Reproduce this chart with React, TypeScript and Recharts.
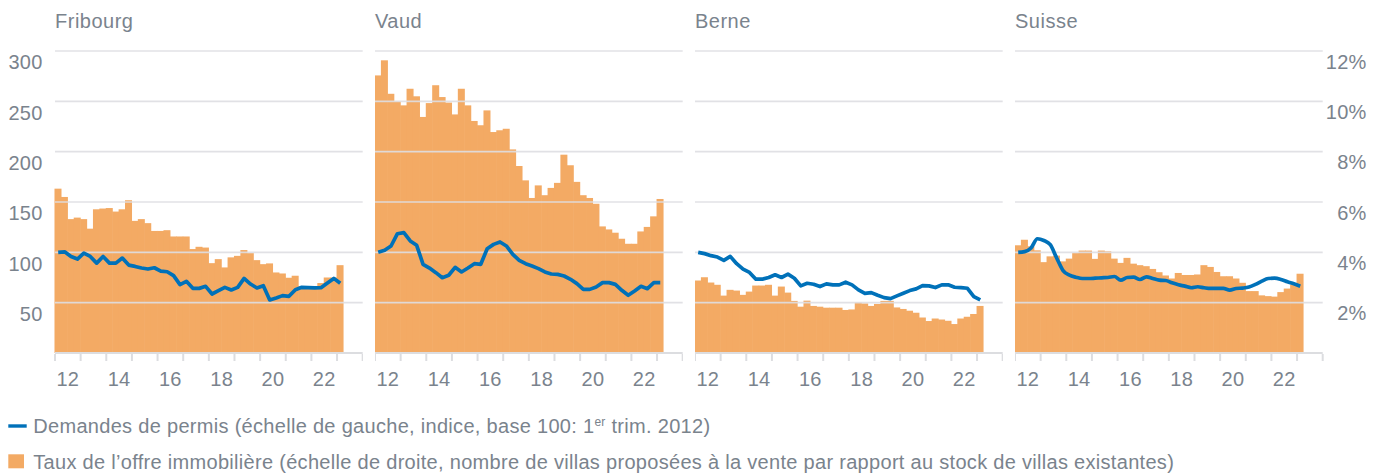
import React from 'react';
import { Bar, ComposedChart, Line, ReferenceLine, XAxis, YAxis } from 'recharts';

// Taux de l'offre (%, right axis) and demandes de permis (index, left axis), quarterly from 2012 T1
const years = ['2012', '2013', '2014', '2015', '2016', '2017', '2018', '2019', '2020', '2021', '2022', '2023'];
const quarterNames = ['T1', 'T2', 'T3', 'T4'];
const xTickLabels = ['12', '14', '16', '18', '20', '22'];
const leftTicks = [50, 100, 150, 200, 250, 300];
const rightTicks = [2, 4, 6, 8, 10, 12];

const fribourgOffre = [6.53, 6.2, 5.32, 5.38, 5.32, 4.94, 5.71, 5.74, 5.76, 5.62, 5.71, 6.07, 5.25, 5.32, 5.16, 4.85, 4.85, 4.88, 4.63, 4.63, 4.63, 4.13, 4.22, 4.19, 3.57, 3.73, 3.4, 3.8, 3.86, 4.09, 3.97, 3.69, 3.53, 3.56, 3.2, 3.16, 2.99, 3.07, 2.65, 2.64, 2.64, 2.78, 3.0, 3.0, 3.49];
const fribourgPermis = [100, 100.5, 95.9, 93.3, 99.2, 95.9, 89.3, 95.9, 89.3, 89.3, 94.3, 87.3, 86.0, 84.4, 83.4, 84.7, 81.4, 80.7, 76.8, 67.9, 71.2, 64.2, 64.2, 66.2, 58.6, 61.9, 65.2, 62.6, 65.2, 74.1, 68.5, 64.6, 66.9, 52.7, 54.7, 57.0, 56.3, 62.9, 65.2, 64.9, 64.6, 64.9, 69.5, 74.1, 69.2];

const vaudOffre = [11.03, 11.63, 10.3, 10.0, 9.84, 10.5, 10.2, 9.38, 9.93, 10.64, 10.17, 9.95, 9.48, 10.5, 9.84, 9.22, 9.05, 9.64, 8.78, 8.85, 8.91, 8.09, 7.43, 6.86, 6.16, 6.66, 6.27, 6.56, 6.76, 7.88, 7.46, 6.8, 6.27, 6.16, 5.93, 5.03, 4.91, 4.78, 4.54, 4.34, 4.34, 4.83, 5.01, 5.43, 6.12];
const vaudPermis = [100, 102.0, 106.3, 118.5, 119.5, 111.3, 107.0, 88.1, 84.4, 79.8, 74.8, 77.2, 85.1, 80.5, 84.4, 88.7, 88.1, 103.6, 107.9, 110.3, 106.3, 98.0, 92.1, 88.7, 86.4, 83.8, 80.5, 78.5, 78.1, 76.5, 73.2, 68.9, 63.2, 63.2, 65.6, 69.9, 69.9, 68.2, 62.3, 57.3, 61.6, 66.2, 63.9, 69.9, 69.9];

const berneOffre = [2.88, 3.01, 2.8, 2.71, 2.28, 2.51, 2.48, 2.31, 2.44, 2.68, 2.68, 2.71, 2.28, 2.64, 2.4, 2.07, 1.84, 2.08, 1.87, 1.84, 1.8, 1.8, 1.8, 1.71, 1.73, 2.01, 1.97, 1.87, 1.95, 2.07, 2.07, 1.81, 1.75, 1.68, 1.6, 1.41, 1.27, 1.37, 1.33, 1.28, 1.15, 1.37, 1.44, 1.55, 1.87];
const bernePermis = [100, 98.7, 96.7, 95.3, 92, 96, 88.7, 83.3, 80, 73.3, 73.3, 75, 77.7, 75, 78.3, 74.3, 66.7, 69.3, 68.3, 66, 68.7, 67.7, 67.7, 70.3, 67.7, 62.7, 59.3, 60, 57.3, 55, 54, 56.7, 59.3, 62, 63.7, 67, 66.7, 65, 67.7, 67.7, 65.3, 65, 64.3, 56, 52.7];

const suisseOffre = [4.28, 4.5, 4.24, 4.08, 3.61, 3.84, 3.87, 3.64, 3.75, 3.97, 4.07, 4.07, 3.74, 4.07, 4.04, 3.75, 3.58, 3.78, 3.55, 3.49, 3.45, 3.34, 3.21, 3.08, 2.96, 3.18, 3.1, 3.1, 3.12, 3.49, 3.42, 3.22, 3.05, 3.05, 2.96, 2.79, 2.46, 2.46, 2.29, 2.26, 2.24, 2.42, 2.56, 2.72, 3.15];
const suissePermis = [100, 100.7, 104.3, 113.5, 111.8, 107.6, 94.4, 81.9, 77.3, 75.3, 74.0, 74.0, 74.3, 74.7, 75.0, 76.0, 72.4, 75.0, 75.3, 73.0, 75.7, 74.0, 72.4, 72.0, 69.7, 67.8, 66.4, 64.8, 65.8, 64.8, 64.1, 64.1, 64.1, 62.5, 64.1, 64.5, 65.5, 68.1, 71.4, 74.0, 74.3, 73.0, 70.7, 68.8, 66.4];

const quarters = years.flatMap((y) => quarterNames.map((t) => `${y} ${t}`));

const FONT = "'Liberation Sans', Arial, sans-serif";
const TEXT = '#7a838d';
const ORANGE = '#f3aa64';
const BLUE = '#0071b9';
const GRID = '#dcdde0';
const GRID_OVER = 'rgba(222,222,226,0.9)';
const LS = 0.3;

const PLOT_W = 307.7;
const PLOT_TOP = 51;
const PLOT_BOTTOM = 353;
const CHART_H = 400;
const BAND = PLOT_W / quarters.length;

// contiguous bars: widen each rect to the full band around the library's bar centre
function BandBar(props: any) {
  const { x, y, width, height } = props;
  if (!height || height <= 0) return <g />;
  const cx = x + width / 2;
  return <rect x={cx - BAND / 2 - 0.3} y={y} width={BAND + 0.6} height={height} fill={ORANGE} />;
}

function XTick(props: any) {
  const { x, index } = props;
  const left = x - BAND / 2;
  return (
    <g>
      {index % 4 === 0 && (
        <line x1={left} x2={left} y1={PLOT_BOTTOM + 1} y2={PLOT_BOTTOM + 8} stroke={GRID} strokeWidth={2} />
      )}
      {index === quarters.length - 1 && (
        <line x1={x + BAND / 2} x2={x + BAND / 2} y1={PLOT_BOTTOM + 1} y2={PLOT_BOTTOM + 8} stroke={GRID} strokeWidth={2} />
      )}
      {index % 8 === 0 && (
        <text x={left + 2 * BAND} y={385.7} textAnchor="middle" fontSize={20} fill={TEXT} fontFamily={FONT} letterSpacing={LS}>
          {xTickLabels[index / 8]}
        </text>
      )}
    </g>
  );
}

function Panel({ title, offre, permis, plotLeft, leftW = 0, rightW = 0, smooth = false }: any) {
  const data = quarters.map((q, i) => ({
    q,
    offre: i < offre.length ? offre[i] : null,
    permis: i < permis.length ? permis[i] : null,
  }));
  return (
    <div style={{ position: 'absolute', left: plotLeft - leftW, top: 0 }}>
      <svg style={{ position: 'absolute', left: leftW, top: 0, overflow: 'visible' }} width={200} height={40}>
        <text x={0} y={28.3} fontSize={20} fill={TEXT} fontFamily={FONT} letterSpacing={0.5}>{title}</text>
      </svg>
      <ComposedChart
        width={leftW + PLOT_W + rightW}
        height={CHART_H}
        data={data}
        margin={{ top: PLOT_TOP, right: 0, bottom: 0, left: 0 }}
        barCategoryGap={0}
        barGap={0}
      >
        <XAxis
          dataKey="q"
          interval={0}
          height={CHART_H - PLOT_BOTTOM}
          tickLine={false}
          axisLine={{ stroke: GRID, strokeWidth: 2 }}
          tick={<XTick />}
        />
        <YAxis
          yAxisId="l"
          domain={[0, 300]}
          ticks={leftTicks}
          hide={!leftW}
          width={leftW}
          axisLine={false}
          tickLine={false}
          tick={(p: any) => (
            <text x={42.7} y={p.y + 18.3} textAnchor="end" fontSize={20} fill={TEXT} fontFamily={FONT} letterSpacing={LS}>
              {p.payload.value}
            </text>
          )}
        />
        <YAxis
          yAxisId="r"
          orientation="right"
          domain={[0, 12]}
          ticks={rightTicks}
          hide={!rightW}
          width={rightW}
          axisLine={false}
          tickLine={false}
          tick={(p: any) => (
            <text x={PLOT_W + 44} y={p.y + 17.8} textAnchor="end" fontSize={20} fill={TEXT} fontFamily={FONT} letterSpacing={LS}>
              {`${p.payload.value}%`}
            </text>
          )}
        />
        <Bar yAxisId="r" dataKey="offre" fill={ORANGE} shape={<BandBar />} isAnimationActive={false} />
        {leftTicks.map((v) => (
          <ReferenceLine key={v} yAxisId="l" y={v} stroke={GRID_OVER} strokeWidth={1.6} />
        ))}
        <Line
          yAxisId="l"
          dataKey="permis"
          type={smooth ? 'monotone' : 'linear'}
          stroke={BLUE}
          strokeWidth={3.7}
          strokeLinejoin="round"
          dot={false}
          activeDot={false}
          isAnimationActive={false}
        />
      </ComposedChart>
    </div>
  );
}

export default function App() {
  return (
    <div
      style={{
        position: 'absolute',
        left: 0,
        top: 0,
        width: 1384,
        height: 476,
        background: '#fff',
        overflow: 'hidden',
        fontFamily: FONT,
      }}
    >
      <Panel title="Fribourg" offre={fribourgOffre} permis={fribourgPermis} plotLeft={55} leftW={55} />
      <Panel title="Vaud" offre={vaudOffre} permis={vaudPermis} plotLeft={375} />
      <Panel title="Berne" offre={berneOffre} permis={bernePermis} plotLeft={695} />
      <Panel title="Suisse" offre={suisseOffre} permis={suissePermis} plotLeft={1015} rightW={61.3} smooth />
      <svg style={{ position: 'absolute', left: 0, top: 400 }} width={1384} height={76}>
        <rect x={8.3} y={24.3} width={18.4} height={3.4} fill={BLUE} />
        <text x={33.3} y={33.3} fontSize={20} fill={TEXT} fontFamily={FONT} letterSpacing={LS}>
          Demandes de permis (échelle de gauche, indice, base 100: 1
          <tspan fontSize={12} dy={-7}>er</tspan>
          <tspan dy={7}> trim. 2012)</tspan>
        </text>
        <rect x={8.3} y={54.3} width={15.7} height={14} fill={ORANGE} />
        <text x={33.3} y={69} fontSize={20} fill={TEXT} fontFamily={FONT} letterSpacing={LS}>
          Taux de l’offre immobilière (échelle de droite, nombre de villas proposées à la vente par rapport au stock de villas existantes)
        </text>
      </svg>
    </div>
  );
}
